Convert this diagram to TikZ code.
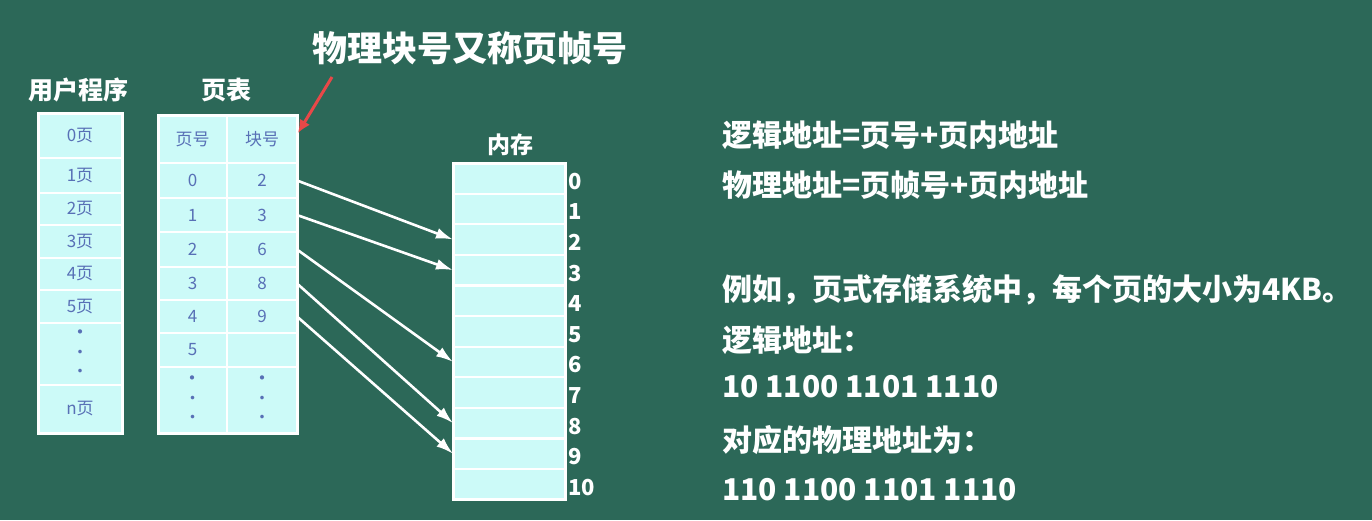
\documentclass[tikz,border=0pt]{standalone}
\usepackage{fontspec}
\setmainfont{Noto Sans CJK SC}
\usetikzlibrary{arrows.meta,positioning}
\definecolor{board}{RGB}{44,104,88}
\definecolor{cellcyan}{RGB}{204,250,248}
\definecolor{celltext}{RGB}{88,112,182}
\definecolor{pointer}{RGB}{232,72,72}
\newcommand\vdotcell{\fontsize{20}{12}\selectfont ·\\·\\·}
\begin{document}
\begin{tikzpicture}[x=1pt,y=-1pt,font=\fontsize{17}{19}\selectfont]
  \tikzset{
    cell/.style={draw=white,line width=2.2pt,fill=cellcyan,text=celltext,inner sep=0pt,outer sep=0pt,align=center},
    frame/.style={draw=white,line width=3pt},
    head/.style={text=white,font=\bfseries\fontsize{25}{27}\selectfont},
    note/.style={text=white,anchor=west,inner sep=0pt,font=\bfseries\fontsize{30}{32}\selectfont},
    idx/.style={text=white,anchor=west,inner sep=0pt,font=\bfseries\fontsize{22}{24}\selectfont},
    map/.style={draw=white,line width=2.6pt,-{Latex[length=17pt,width=11pt]}},
  }
  \fill[board] (0,0) rectangle (1372,520);

  % user program
  \node[head] (uhead) at (78,90) {用户程序};
  \foreach \t/\b/\txt [count=\i from 0] in {113/158/0页,158/193/1页,193/225/2页,225/258/3页,
      258/290/4页,290/323/5页,323/385/\vdotcell,385/433/n页}
    \node[cell,minimum width=84pt,minimum height={(\b-\t)*1pt}] (u\i) at (80,{(\t+\b)/2}) {\txt};
  \draw[frame] (u0.north west) rectangle (u7.south east);

  % page table
  \node[head] (phead) at (226,90) {页表};
  \foreach \t/\b/\pg/\blk [count=\i from 0] in {115/163/页号/块号,163/198/0/2,198/232/1/3,232/267/2/6,
      267/300/3/8,300/333/4/9,333/367/5/{},367/433/\vdotcell/\vdotcell}{
    \node[cell,minimum width=69pt,minimum height={(\b-\t)*1pt}] (p\i) at (192.5,{(\t+\b)/2}) {\pg};
    \node[cell,minimum width=70pt,minimum height={(\b-\t)*1pt}] (b\i) at (262,{(\t+\b)/2}) {\blk};
  }
  \draw[frame] (p0.north west) rectangle (b7.south east);

  % memory
  \node[head,font=\bfseries\fontsize{23}{25}\selectfont] (mhead) at (510,145) {内存};
  \foreach \k in {0,...,10}{
    \node[cell,minimum width=112pt,minimum height=30.6pt] (m\k) at (509,{163+(\k+0.5)*30.6}) {};
    \node[idx,yshift=-3pt] (l\k) at ([xshift=3pt]m\k.east) {\k};
  }
  \draw[frame] (m0.north west) rectangle (m10.south east);

  \draw[map] (b1.east) -- (m2.west);
  \draw[map] (b2.east) -- (m3.west);
  \draw[map] (b3.east) -- (m6.west);
  \draw[map] (b4.east) -- (m8.west);
  \draw[map] (b5.east) -- (m9.west);

  % note on the block column
  \node[text=white,font=\bfseries\fontsize{35}{37}\selectfont] (title) at (470,48) {物理块号又称页帧号};
  \coordinate (tail) at (332,77);
  \coordinate (tip) at (298,133);
  \draw[pointer,line width=3pt,-{Latex[length=13pt,width=12pt]}] (tail) -- (tip);

  % formulas and example
  \node[note] (n1) at (722,135) {逻辑地址=页号+页内地址};
  \node[note] (n2) at (722,185) {物理地址=页帧号+页内地址};
  \node[note] (n3) at (722,290) {例如，页式存储系统中，每个页的大小为4KB。};
  \node[note] (n4) at (722,340) {逻辑地址：};
  \node[note] (n5) at (722,387) {10 1100 1101 1110};
  \node[note] (n6) at (722,440) {对应的物理地址为：};
  \node[note] (n7) at (722,490) {110 1100 1101 1110};
\end{tikzpicture}
\end{document}
